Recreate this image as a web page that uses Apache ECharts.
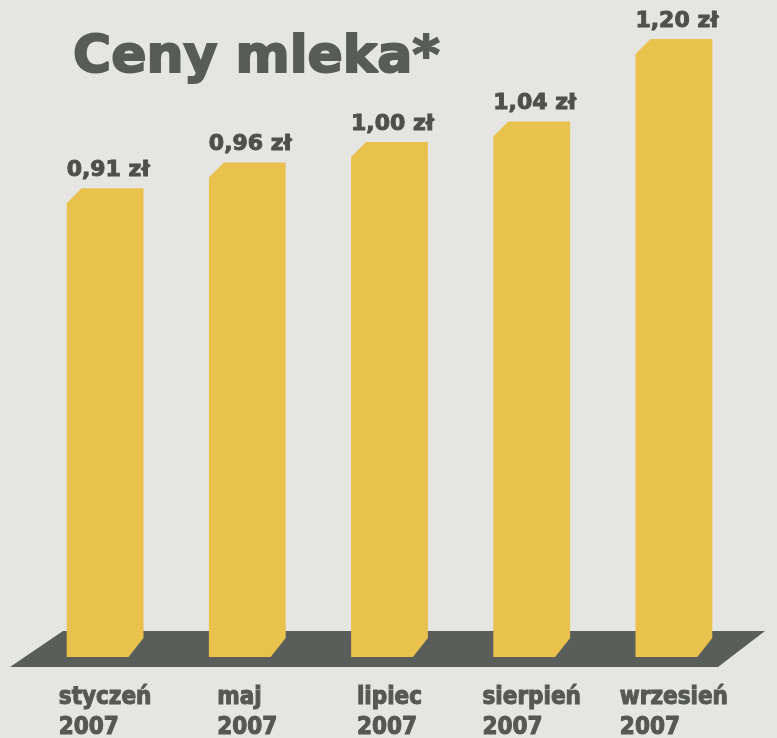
<!DOCTYPE html>
<html>
<head>
<meta charset="utf-8">
<script src="https://cdn.jsdelivr.net/npm/echarts@6/dist/echarts.min.js"></script>
<style>
  html, body { margin: 0; padding: 0; background: #e5e5e2; }
  #chart { width: 777px; height: 738px; }
</style>
</head>
<body>
<div id="chart"></div>
<script>
// Chart data
const months = ['styczeń', 'maj', 'lipiec', 'sierpień', 'wrzesień'];
const years = ['2007', '2007', '2007', '2007', '2007'];
const prices = [0.91, 0.96, 1.00, 1.04, 1.20];

const BAR_COLOR = '#e9c14d';
const FLOOR_COLOR = '#5a5e5a';
const TEXT_COLOR = '#4d504d';

const formatPrice = (v) => v.toFixed(2).replace('.', ',') + ' zł';

// Bar with cut corners (top-left and bottom-right), plus price label above it
const renderBar = (params, api) => {
  const idx = api.value(0);
  const top = api.coord([idx, api.value(1)]);
  const base = api.coord([idx, 0]);
  const w = api.size([1, 0])[0] * 0.54;
  const l = top[0] - w / 2;
  const r = top[0] + w / 2;
  const t = top[1];
  const b = base[1];
  const c = 15;
  return {
    type: 'group',
    children: [
      {
        type: 'polygon',
        shape: {
          points: [[l, t + c], [l + c, t], [r, t], [r, b - c - 4], [r - c, b], [l, b]],
        },
        style: { fill: BAR_COLOR },
      },
      {
        type: 'text',
        x: top[0] + 3,
        y: t - 7,
        style: {
          text: formatPrice(api.value(1)),
          align: 'center',
          verticalAlign: 'bottom',
          fill: TEXT_COLOR,
          stroke: TEXT_COLOR,
          lineWidth: 1,
          font: 'bold 22px "DejaVu Sans"',
        },
      },
    ],
  };
};

const chart = echarts.init(document.getElementById('chart'));

chart.setOption({
  backgroundColor: '#e5e5e2',
  animation: false,
  title: {
    text: 'Ceny mleka*',
    left: 68,
    top: 24,
    textStyle: {
      fontFamily: '"DejaVu Sans"',
      fontWeight: 'bold',
      fontSize: 52,
      lineHeight: 58,
      color: '#585c58',
      textBorderColor: '#585c58',
      textBorderWidth: 2,
    },
  },
  grid: { left: 34, right: 32, top: 39, bottom: 81, outerBoundsMode: 'none' },
  xAxis: {
    type: 'category',
    data: months,
    axisLine: { show: false },
    axisTick: { show: false },
    axisLabel: {
      margin: 26,
      interval: 0,
      align: 'center',
      formatter: (val, i) => '{a|' + val + '}\n{a|' + years[i] + '}',
      rich: {
        a: {
          align: 'left',
          fontFamily: '"DejaVu Sans Condensed", "DejaVu Sans"',
          fontWeight: 'bold',
          fontSize: 24,
          lineHeight: 30,
          color: '#555855',
          textBorderColor: '#555855',
          textBorderWidth: 1,
        },
      },
    },
  },
  yAxis: {
    type: 'value',
    min: 0,
    max: 1.2,
    show: false,
  },
  graphic: [
    {
      type: 'polygon',
      z: 0,
      shape: { points: [[63, 631], [765, 631], [718, 667], [10, 667]] },
      style: { fill: FLOOR_COLOR },
    },
  ],
  series: [
    {
      type: 'custom',
      z: 5,
      renderItem: renderBar,
      data: prices.map((p, i) => [i, p]),
    },
  ],
});
</script>
</body>
</html>
